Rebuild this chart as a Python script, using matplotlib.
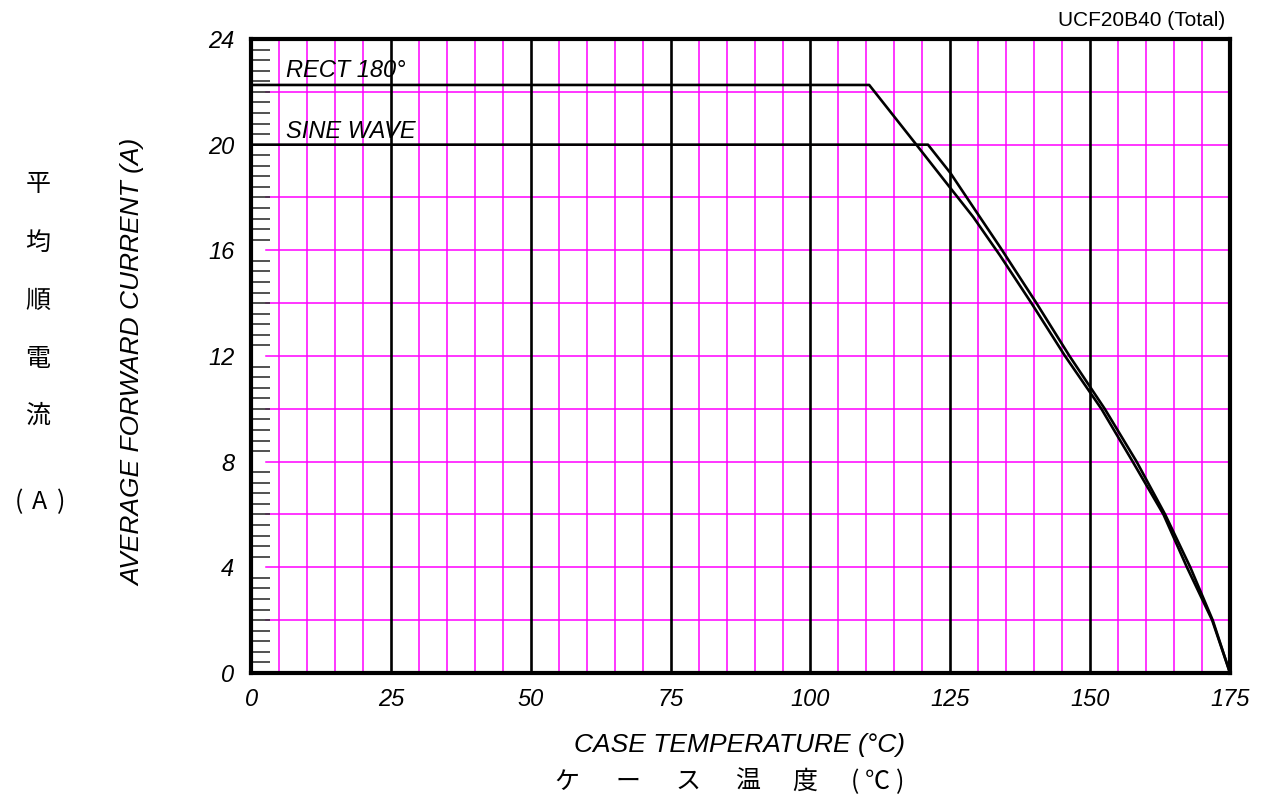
import numpy as np
import matplotlib
matplotlib.use("Agg")
import matplotlib.pyplot as plt
from matplotlib.ticker import MultipleLocator

# data
rect_t = [0, 110.5, 118.7, 125.0, 129.1, 133.9, 139.5, 145.5, 152.0, 157.6, 163.1, 167.3, 171.8, 175.0]
rect_i = [22.26, 22.26, 20.06, 18.36, 17.26, 15.8, 14.0, 12.0, 10.0, 8.0, 6.0, 4.0, 2.0, 0.0]
sine_t = [0, 121.0, 125.0, 129.8, 133.9, 140.4, 146.3, 152.6, 158.3, 163.4, 167.9, 171.9, 175.0]
sine_i = [20.0, 20.0, 18.93, 17.41, 16.12, 14.0, 12.0, 10.0, 8.0, 6.0, 4.0, 2.0, 0.0]

x_ticks = [0, 25, 50, 75, 100, 125, 150, 175]
y_ticks = [0, 4, 8, 12, 16, 20, 24]
x_fine = np.arange(5, 175, 5)
y_fine = np.arange(2, 24, 2)

labels = ["RECT 180°", "SINE WAVE"]
title = "UCF20B40 (Total)"
jp_y = ["平", "均", "順", "電", "流"]
jp_x = ["ケ", "ー", "ス", "温", "度"]

plt.rcParams['font.family'] = ['Liberation Sans', 'DejaVu Sans']
MAG = '#ff00ff'

fig = plt.figure(figsize=(12.66, 7.99), dpi=100)
ax = fig.add_axes([0.1983, 0.1577, 0.9716 - 0.1983, 0.9512 - 0.1577])
ax.set_xlim(0, 175)
ax.set_ylim(0, 24)

# grid
for v in x_fine:
    if v % 25 == 0:
        ax.axvline(v, color='black', lw=1.9, zorder=2)
    else:
        ax.axvline(v, color=MAG, lw=1.1, zorder=1)
for h in y_fine:
    ax.axhline(h, xmin=0.015, color=MAG, lw=1.1, zorder=1)

ax.plot(rect_t, rect_i, color='black', lw=1.9, zorder=3)
ax.plot(sine_t, sine_i, color='black', lw=1.9, zorder=3)

ax.text(6.3, 22.55, labels[0], fontsize=17, style='italic', zorder=4)
ax.text(6.3, 20.25, labels[1], fontsize=17, style='italic', zorder=4)

for s in ax.spines.values():
    s.set_linewidth(3)

ax.set_xticks(x_ticks)
ax.set_yticks(y_ticks)
ax.set_xticklabels([str(v) for v in x_ticks], fontsize=17, style='italic')
ax.set_yticklabels([str(v) for v in y_ticks], fontsize=17, style='italic')
ax.yaxis.set_minor_locator(MultipleLocator(0.4))
ax.tick_params(axis='both', which='major', length=0)
ax.tick_params(axis='x', which='major', pad=11)
ax.tick_params(axis='y', which='major', pad=12)
ax.tick_params(axis='y', which='minor', direction='in', length=14, width=1.2, color='#333333')

fig.text(1225 / 1266, 1 - 20 / 799, title, ha='right', va='center', fontsize=15)

fig.text(133 / 1266, 1 - 362 / 799, "AVERAGE FORWARD CURRENT (A)", rotation=90,
         ha='center', va='center', fontsize=19, style='italic')
fig.text(740 / 1266, 1 - 745 / 799, "CASE TEMPERATURE (°C)",
         ha='center', va='center', fontsize=19, style='italic')

jp_font = ['Noto Sans CJK JP', 'DejaVu Sans']
for ch, yy in zip(jp_y, [184, 243, 301, 359, 416]):
    fig.text(38 / 1266, 1 - yy / 799, ch, ha='center', va='center', fontsize=18, family=jp_font)
for ch, xx in zip(["(", "A", ")"], [19, 40, 61]):
    fig.text(xx / 1266, 1 - 502 / 799, ch, ha='center', va='center', fontsize=18, family=jp_font)
for ch, xx in zip(jp_x, [567, 628, 688, 748, 805]):
    fig.text(xx / 1266, 1 - 782 / 799, ch, ha='center', va='center', fontsize=18, family=jp_font)
for ch, xx in zip(["(", "℃", ")"], [855, 877, 900]):
    fig.text(xx / 1266, 1 - 782 / 799, ch, ha='center', va='center', fontsize=18, family=jp_font)

fig.savefig("out.png", dpi=100)
